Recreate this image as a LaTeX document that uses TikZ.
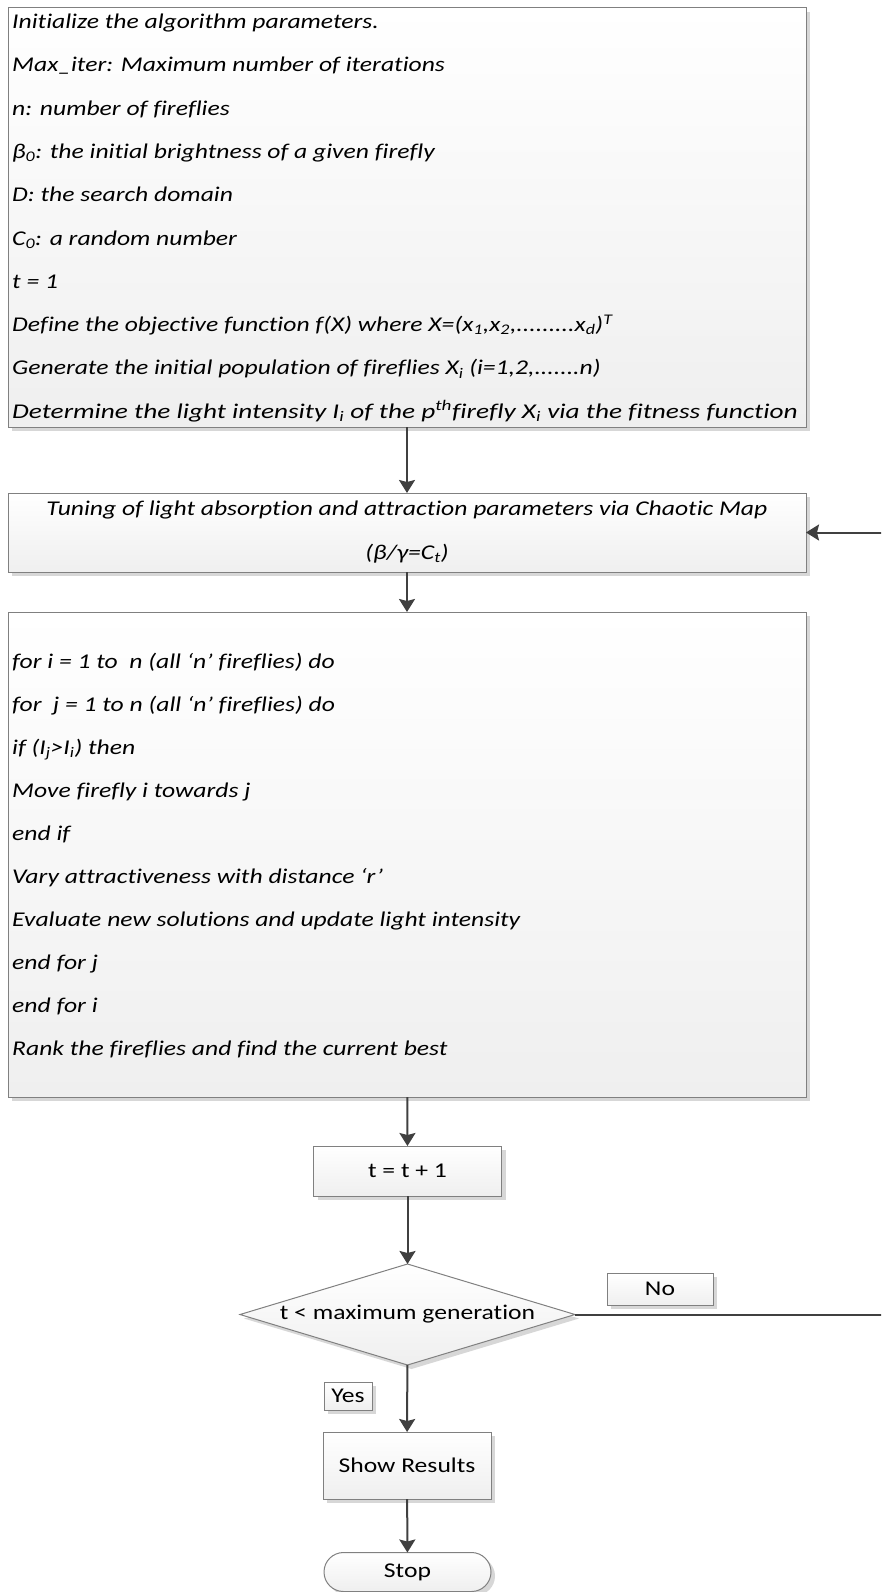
\documentclass[tikz,border=0pt]{standalone}
\usepackage{fontspec}
\setmainfont{Carlito}[FakeStretch=1.22, Ligatures=NoCommon]
\usetikzlibrary{shapes.geometric,shapes.misc,arrows.meta,shadows}
\definecolor{bordc}{RGB}{128,128,128}
\definecolor{arrc}{RGB}{64,64,64}
\definecolor{shadc}{RGB}{239,239,239}
\definecolor{shadowc}{RGB}{215,215,215}
\tikzset{
  boxa/.style={draw=bordc, line width=1pt, top color=white, bottom color=shadc,
    inner sep=0pt, outer sep=0pt,
    drop shadow={shadow xshift=4pt, shadow yshift=-4pt, fill=shadowc, opacity=1}},
  itline/.style={anchor=base west, inner sep=0pt, font=\fontsize{21}{24}\selectfont\itshape},
  itcent/.style={anchor=base, inner sep=0pt, font=\fontsize{21}{24}\selectfont\itshape},
  lbl/.style={font=\fontsize{21}{24}\selectfont},
  arr/.style={draw=arrc, line width=2pt, -{Stealth[length=13pt,width=16pt,inset=2pt]}},
}
\begin{document}
\begin{tikzpicture}[x=1pt,y=-1pt]
\useasboundingbox (0,0) rectangle (881,1592);
\clip (0,0) rectangle (881,1592);
% boxes
\node[boxa, minimum width=798, minimum height=419] (b1) at (407,217.5) {};
\node[boxa, minimum width=798, minimum height=79] (b2) at (407,532.5) {};
\node[boxa, minimum width=798, minimum height=485] (b3) at (407,854.5) {};
\node[boxa, minimum width=188, minimum height=50, lbl] (b4) at (407.5,1171) {t = t + 1};
\node[boxa, diamond, aspect=3.3, minimum width=335, minimum height=101, lbl] (dia) at (407.5,1314.5) {t < maximum generation};
\node[boxa, minimum width=106, minimum height=32, lbl] (no) at (660,1289) {No};
\node[boxa, minimum width=48, minimum height=28, lbl] (yes) at (348,1396) {Yes};
\node[boxa, minimum width=168, minimum height=67, lbl] (res) at (407,1465.5) {Show Results};
\node[boxa, rounded rectangle, minimum width=167, minimum height=39, lbl] (stop) at (407.5,1572) {Stop};
% box 1 text
\node[itline] (t1) at (12,28.5) {Initialize the algorithm parameters.};
\node[itline] (t2) at (12,71.8) {Max\_iter: Maximum number of iterations};
\node[itline] (t3) at (12,115.1) {n: number of fireflies};
\node[itline] (t4) at (12,158.4) {β\textsubscript{0}: the initial brightness of a given firefly};
\node[itline] (t5) at (12,201.7) {D: the search domain};
\node[itline] (t6) at (12,245) {C\textsubscript{0}: a random number};
\node[itline] (t7) at (12,288.3) {t = 1};
\node[itline] (t8) at (12,331.6) {Define the objective function f(X) where X=(x\textsubscript{1},x\textsubscript{2},.........x\textsubscript{d})\textsuperscript{T}};
\node[itline] (t9) at (12,374.9) {Generate the initial population of fireflies X\textsubscript{i} (i=1,2,.......n)};
\node[itline, transform shape, xscale=1.065] (t10) at (12,418.2) {Determine the light intensity I\textsubscript{i} of the p\textsuperscript{th}firefly X\textsubscript{i} via the fitness function};
% box 2 text
\node[itcent] (u1) at (407,515.5) {Tuning of light absorption and attraction parameters via Chaotic Map};
\node[itcent] (u2) at (407,559) {(β/γ=C\textsubscript{t})};
% box 3 text
\node[itline] (s1) at (12,668) {for i = 1 to\ \ n (all ‘n’ fireflies) do};
\node[itline] (s2) at (12,711.1) {for\ \ j = 1 to n (all ‘n’ fireflies) do};
\node[itline] (s3) at (12,754.2) {if (I\textsubscript{j}>I\textsubscript{i}) then};
\node[itline] (s4) at (12,797.3) {Move firefly i towards j};
\node[itline] (s5) at (12,840.4) {end if};
\node[itline] (s6) at (12,883.5) {Vary attractiveness with distance ‘r’};
\node[itline] (s7) at (12,926.6) {Evaluate new solutions and update light intensity};
\node[itline] (s8) at (12,969.7) {end for j};
\node[itline] (s9) at (12,1012.8) {end for i};
\node[itline] (s10) at (12,1055.9) {Rank the fireflies and find the current best};
% connectors
\coordinate (loop) at (890,0);
\draw[arr] (b1) -- (b2);
\draw[arr] (b2) -- (b3);
\draw[arr] (b3) -- (b4);
\draw[arr] (b4) -- (dia);
\draw[arr] (dia) -- (res);
\draw[arr] (res) -- (stop);
\draw[arr] (dia.east) -- (dia.east -| loop) |- (b2.east);
\end{tikzpicture}
\end{document}
